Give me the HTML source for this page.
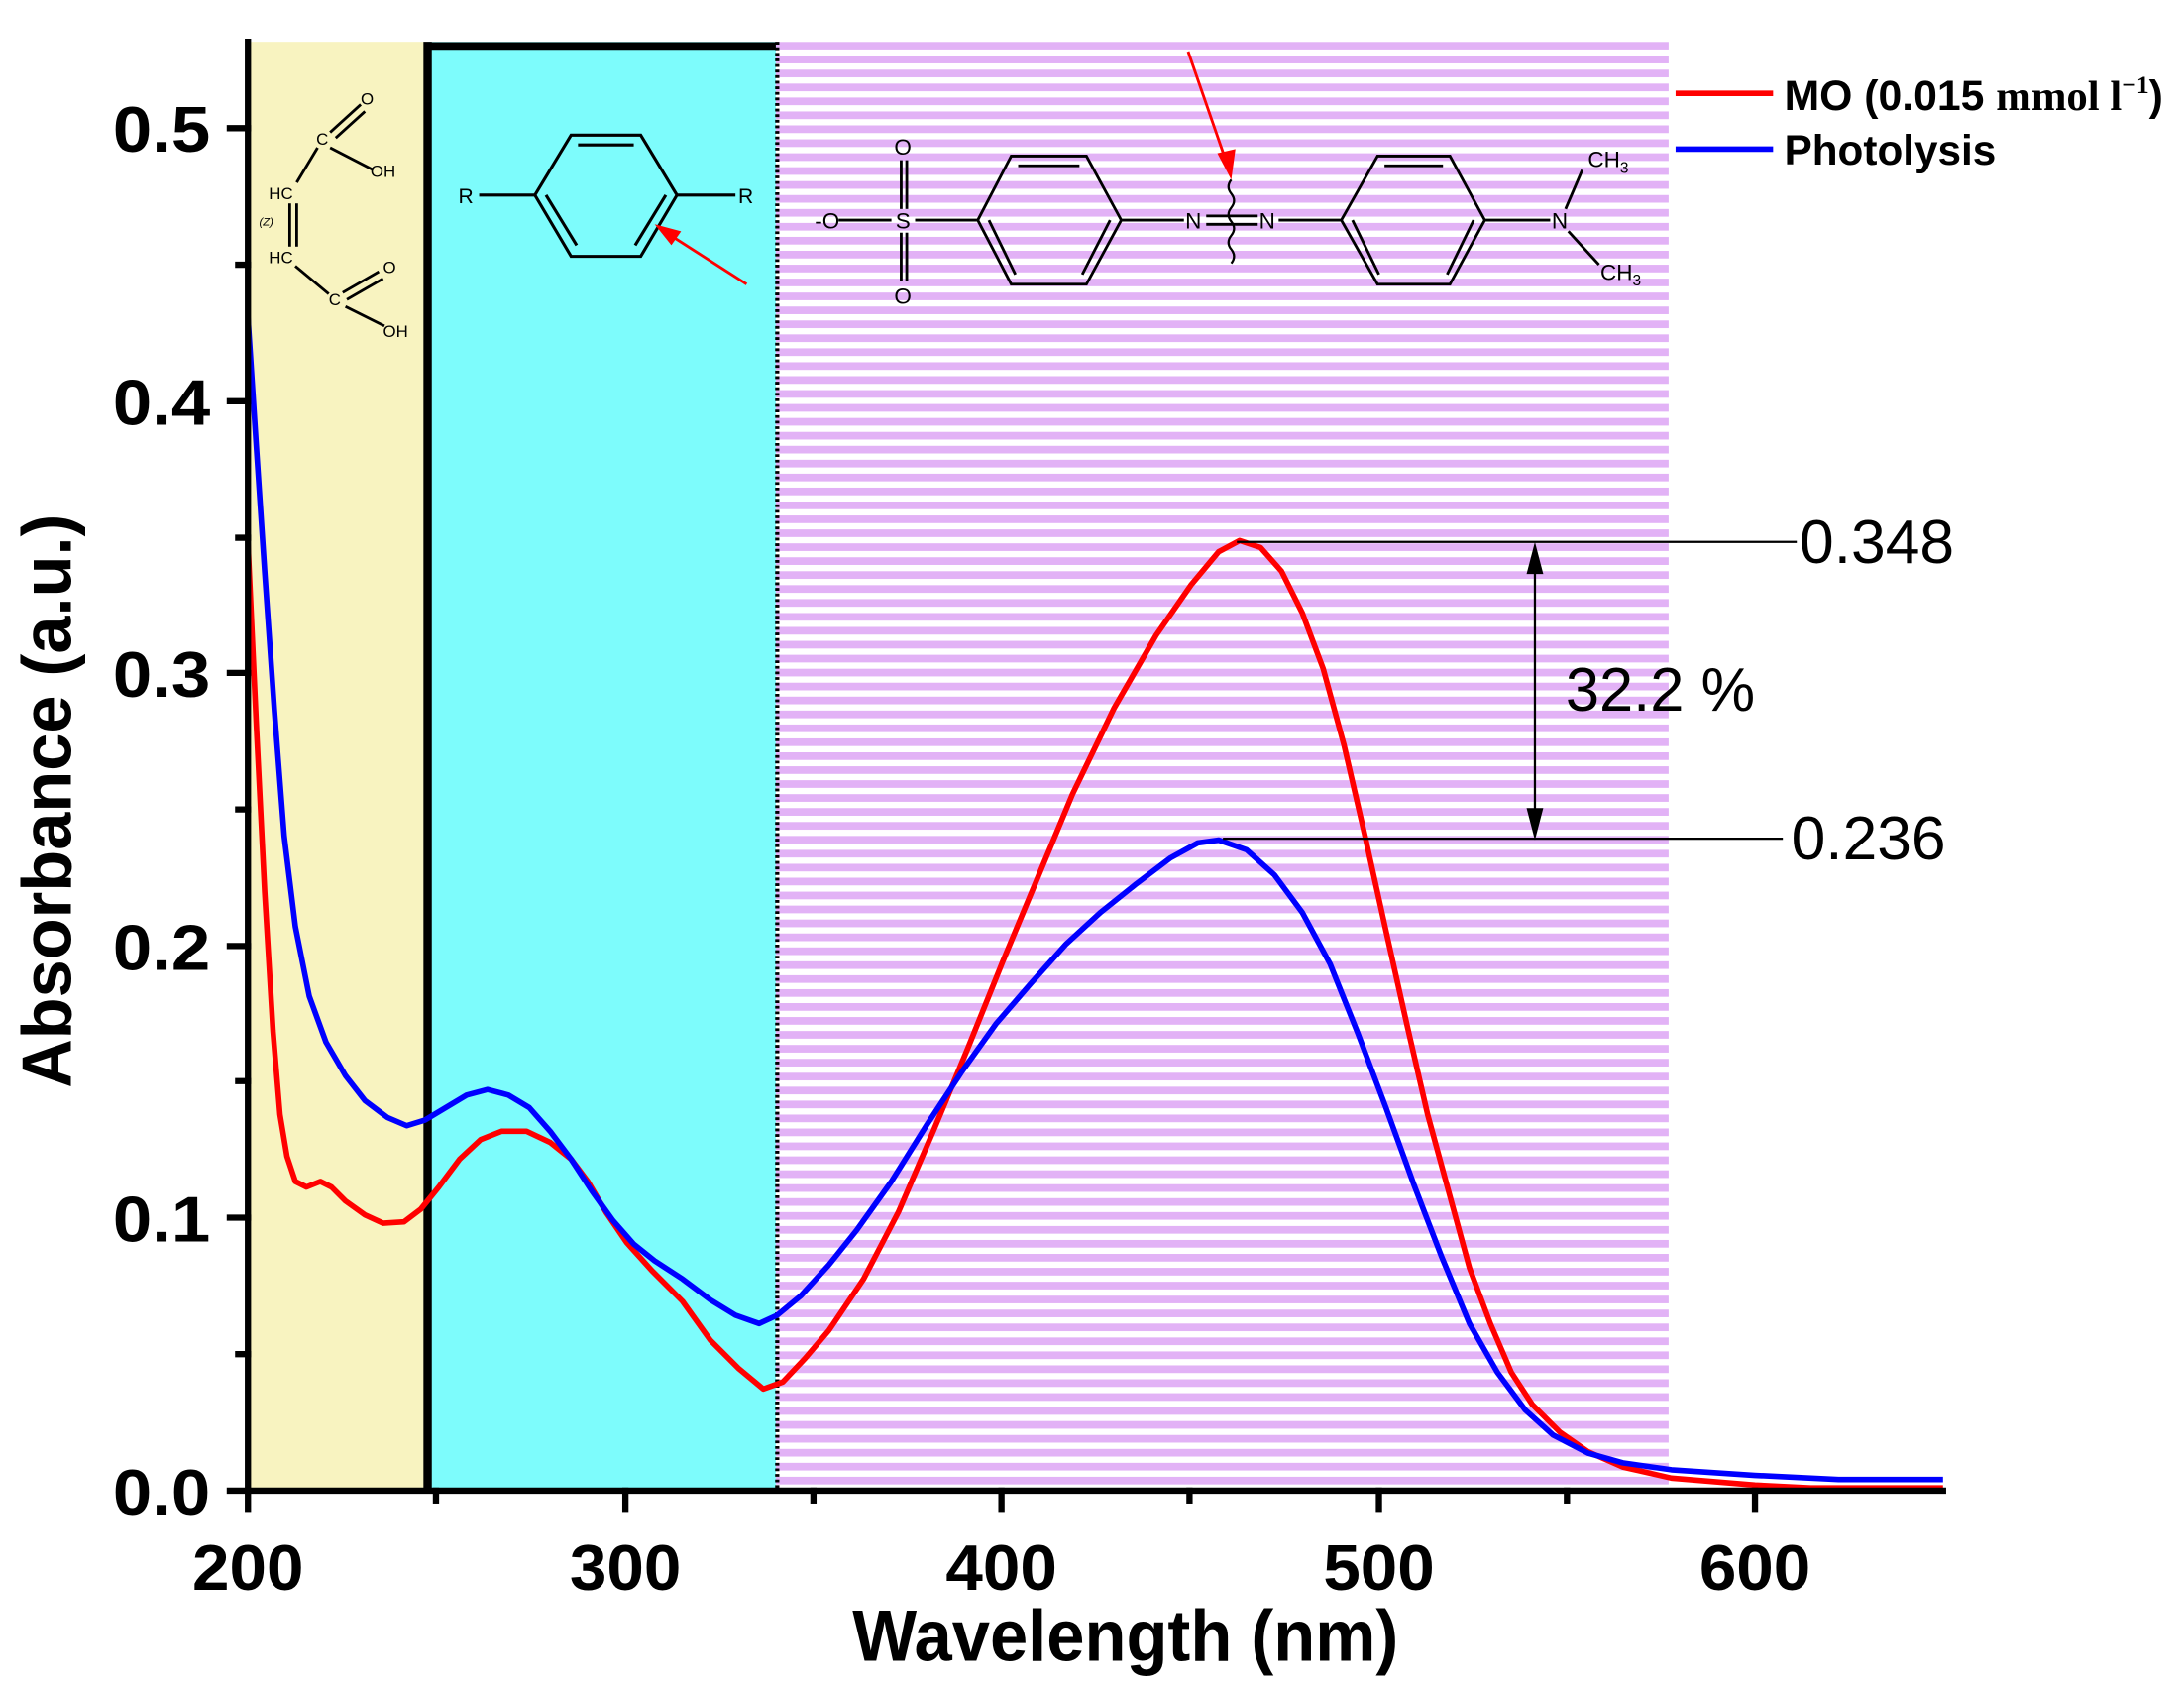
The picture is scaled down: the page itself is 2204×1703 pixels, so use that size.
<!DOCTYPE html>
<html><head><meta charset="utf-8"><style>
html,body{margin:0;padding:0;background:#fff}
svg{display:block}
text{font-family:"Liberation Sans",sans-serif}
</style></head><body>
<svg width="2204" height="1703" viewBox="0 0 1568 1211.6" xmlns="http://www.w3.org/2000/svg">
<defs>
<pattern id="st" width="20" height="10" patternUnits="userSpaceOnUse" y="30">
<rect x="0" y="0" width="20" height="5.5" fill="#e2b2f6"/>
</pattern>
</defs>
<rect x="178" y="30" width="129" height="1040" fill="#f8f3c0"/>
<rect x="307" y="30" width="250" height="1040" fill="#7dfcfc"/>
<rect x="557" y="30" width="641" height="1038" fill="url(#st)"/>
<line x1="307" y1="33" x2="557" y2="33" stroke="#000" stroke-width="5.5"/>
<line x1="307" y1="30" x2="307" y2="1070" stroke="#000" stroke-width="6"/>
<line x1="558" y1="30" x2="558" y2="1070" stroke="#000" stroke-width="3" stroke-dasharray="2,2"/>

<g stroke="#000" stroke-width="2" fill="none">
<line x1="237" y1="95" x2="259" y2="75"/><line x1="241" y1="99" x2="262" y2="80"/>
<line x1="237" y1="106" x2="268" y2="122"/>
<line x1="228" y1="106" x2="213" y2="131"/>
<line x1="208" y1="146" x2="208" y2="177"/><line x1="213" y1="146" x2="213" y2="177"/>
<line x1="212" y1="191" x2="236" y2="211"/>
<line x1="246" y1="210" x2="272" y2="195"/><line x1="249" y1="215" x2="275" y2="200"/>
<line x1="248" y1="220" x2="276" y2="234"/>
</g>
<g font-size="12" fill="#000">
<text x="259" y="75">O</text><text x="227" y="104">C</text><text x="266" y="127">OH</text>
<text x="193" y="143">HC</text><text x="186" y="162" font-size="8" font-style="italic">(Z)</text>
<text x="193" y="189">HC</text><text x="236" y="219">C</text><text x="275" y="196">O</text><text x="275" y="242">OH</text>
</g>

<g stroke="#000" stroke-width="2.2" fill="none">
<polygon points="384,140 410,97 460,97 486,140 460,184 410,184"/>
<line x1="415" y1="104" x2="455" y2="104"/>
<line x1="392" y1="140" x2="414" y2="176"/>
<line x1="478" y1="140" x2="456" y2="176"/>
<line x1="344" y1="140" x2="384" y2="140"/><line x1="486" y1="140" x2="528" y2="140"/>
</g>
<text x="329" y="146" font-size="15">R</text><text x="530" y="146" font-size="15">R</text>
<line x1="536" y1="204" x2="480" y2="168" stroke="red" stroke-width="2"/>
<polygon points="470,161 489,166 482,176" fill="red"/>

<g stroke="#000" stroke-width="2" fill="none">
<polygon points="702,158 726,112 780,112 805,158 780,204 726,204"/>
<line x1="731" y1="119" x2="775" y2="119"/>
<line x1="710" y1="158" x2="729" y2="197"/><line x1="797" y1="158" x2="777" y2="197"/>
<polygon points="963,158 989,112 1041,112 1066,158 1041,204 989,204"/>
<line x1="994" y1="119" x2="1036" y2="119"/>
<line x1="971" y1="158" x2="990" y2="197"/><line x1="1058" y1="158" x2="1039" y2="197"/>
<line x1="602" y1="158" x2="640" y2="158"/><line x1="657" y1="158" x2="702" y2="158"/>
<line x1="647" y1="115" x2="647" y2="150"/><line x1="651" y1="115" x2="651" y2="150"/>
<line x1="647" y1="167" x2="647" y2="202"/><line x1="651" y1="167" x2="651" y2="202"/>
<line x1="805" y1="158" x2="850" y2="158"/>
<line x1="866" y1="155" x2="903" y2="155"/><line x1="866" y1="161" x2="903" y2="161"/>
<line x1="918" y1="158" x2="963" y2="158"/>
<line x1="1066" y1="158" x2="1113" y2="158"/>
<line x1="1124" y1="150" x2="1136" y2="122"/><line x1="1126" y1="166" x2="1148" y2="190"/>
<path d="M884,129 q-4,5 0,10 q4,5 0,10 q-4,5 0,10 q4,5 0,10 q-4,5 0,10 q4,5 0,10" stroke-width="1.6"/>
</g>
<g font-size="16" fill="#000">
<text x="585" y="164">-O</text><text x="643" y="164">S</text>
<text x="642" y="111">O</text><text x="642" y="218">O</text>
<text x="851" y="164">N</text><text x="904" y="164">N</text><text x="1114" y="164">N</text>
<text x="1140" y="120">CH<tspan font-size="11" dy="4">3</tspan></text>
<text x="1149" y="201">CH<tspan font-size="11" dy="4">3</tspan></text>
</g>
<line x1="853" y1="37" x2="880" y2="115" stroke="red" stroke-width="2"/>
<polygon points="884,129 874,110 887,107" fill="red"/>

<polyline fill="none" stroke="#ff0000" stroke-width="4" stroke-linejoin="round" points="178,390 184,520 190,640 196,740 201,800 206,830 212,848 220,852 230,848 238,852 248,862 262,872 275,878 290,877 302,868 315,852 330,832 345,818 360,812 378,812 395,820 410,832 422,848 435,870 450,892 468,912 490,934 510,962 530,982 548,997 562,992 578,975 595,955 620,918 645,870 670,812 695,752 720,690 745,630 770,570 800,508 830,456 855,420 875,396 890,388 905,393 920,410 935,440 950,480 965,535 980,600 995,668 1010,735 1025,800 1040,855 1055,910 1070,950 1085,985 1100,1008 1120,1028 1140,1042 1165,1053 1200,1061 1260,1066 1300,1068 1395,1068"/>
<polyline fill="none" stroke="#0000ff" stroke-width="4" stroke-linejoin="round" points="178,228 184,320 190,410 197,510 204,600 212,665 222,715 234,748 248,772 262,790 278,802 292,808 305,804 320,795 335,786 350,782 365,786 380,795 395,812 410,832 425,855 440,876 455,893 470,905 490,918 510,933 528,944 545,950 558,944 575,930 595,908 615,883 640,848 665,808 690,770 715,735 740,706 765,678 790,655 815,635 840,616 860,605 875,603 895,610 915,628 935,655 955,692 975,742 995,795 1015,850 1035,902 1055,950 1075,985 1095,1012 1115,1030 1140,1043 1165,1050 1200,1055 1260,1059 1320,1062 1395,1062"/>

<g stroke="#000" stroke-width="1.6">
<line x1="888" y1="389" x2="1290" y2="389"/>
<line x1="878" y1="602" x2="1280" y2="602"/>
<line x1="1102" y1="396" x2="1102" y2="595"/>
</g>
<polygon points="1102,389 1096,412 1108,412" fill="#000"/>
<polygon points="1102,603 1096,580 1108,580" fill="#000"/>
<text x="1292" y="404" font-size="44" textLength="111" lengthAdjust="spacingAndGlyphs">0.348</text>
<text x="1286" y="617" font-size="44" textLength="111" lengthAdjust="spacingAndGlyphs">0.236</text>
<text x="1124" y="510" font-size="44" textLength="136" lengthAdjust="spacingAndGlyphs">32.2 %</text>

<line x1="1203" y1="67" x2="1273" y2="67" stroke="#ff0000" stroke-width="4"/>
<line x1="1203" y1="107" x2="1273" y2="107" stroke="#0000ff" stroke-width="4"/>
<text x="1281" y="79" font-size="30" font-weight="bold" textLength="272" lengthAdjust="spacingAndGlyphs">MO (0.015 <tspan font-family="Liberation Serif">mmol l</tspan><tspan font-size="18" dy="-12" font-family="Liberation Serif">−1</tspan><tspan dy="12">)</tspan></text>
<text x="1281" y="118" font-size="30" font-weight="bold" textLength="152" lengthAdjust="spacingAndGlyphs">Photolysis</text>

<g stroke="#000" stroke-width="4.5" stroke-linecap="square">
<line x1="178" y1="30" x2="178" y2="1070"/>
<line x1="178" y1="1070" x2="1395" y2="1070"/>
<line x1="165" y1="1070" x2="178" y2="1070"/>
<line x1="165" y1="874" x2="178" y2="874"/>
<line x1="165" y1="679" x2="178" y2="679"/>
<line x1="165" y1="483" x2="178" y2="483"/>
<line x1="165" y1="288" x2="178" y2="288"/>
<line x1="165" y1="92" x2="178" y2="92"/>
<line x1="171" y1="972" x2="178" y2="972"/>
<line x1="171" y1="776" x2="178" y2="776"/>
<line x1="171" y1="581" x2="178" y2="581"/>
<line x1="171" y1="386" x2="178" y2="386"/>
<line x1="171" y1="190" x2="178" y2="190"/>
<line x1="178" y1="1070" x2="178" y2="1083"/>
<line x1="449" y1="1070" x2="449" y2="1083"/>
<line x1="719" y1="1070" x2="719" y2="1083"/>
<line x1="990" y1="1070" x2="990" y2="1083"/>
<line x1="1260" y1="1070" x2="1260" y2="1083"/>
<line x1="313" y1="1070" x2="313" y2="1077"/>
<line x1="584" y1="1070" x2="584" y2="1077"/>
<line x1="854" y1="1070" x2="854" y2="1077"/>
<line x1="1125" y1="1070" x2="1125" y2="1077"/>
</g>
<g font-size="46" font-weight="bold" text-anchor="end">
<text x="151" y="1087" textLength="70" lengthAdjust="spacingAndGlyphs">0.0</text>
<text x="151" y="891" textLength="70" lengthAdjust="spacingAndGlyphs">0.1</text>
<text x="151" y="696" textLength="70" lengthAdjust="spacingAndGlyphs">0.2</text>
<text x="151" y="500" textLength="70" lengthAdjust="spacingAndGlyphs">0.3</text>
<text x="151" y="305" textLength="70" lengthAdjust="spacingAndGlyphs">0.4</text>
<text x="151" y="109" textLength="70" lengthAdjust="spacingAndGlyphs">0.5</text>
</g>
<g font-size="46" font-weight="bold" text-anchor="middle">
<text x="178" y="1141" textLength="80" lengthAdjust="spacingAndGlyphs">200</text>
<text x="449" y="1141" textLength="80" lengthAdjust="spacingAndGlyphs">300</text>
<text x="719" y="1141" textLength="80" lengthAdjust="spacingAndGlyphs">400</text>
<text x="990" y="1141" textLength="80" lengthAdjust="spacingAndGlyphs">500</text>
<text x="1260" y="1141" textLength="80" lengthAdjust="spacingAndGlyphs">600</text>
</g>
<text x="808" y="1192" font-size="52" font-weight="bold" text-anchor="middle" textLength="392" lengthAdjust="spacingAndGlyphs">Wavelength (nm)</text>
<text transform="translate(51,575) rotate(-90)" font-size="50" font-weight="bold" text-anchor="middle" textLength="412" lengthAdjust="spacingAndGlyphs">Absorbance (a.u.)</text>
</svg>
</body></html>
